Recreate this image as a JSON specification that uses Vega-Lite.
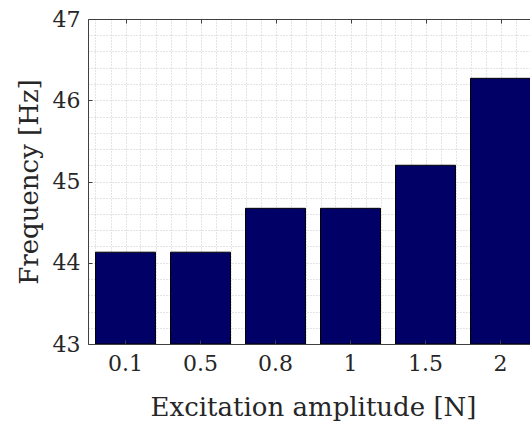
{
  "$schema": "https://vega.github.io/schema/vega-lite/v6.json",
  "width": 442,
  "height": 325,
  "autosize": {"type": "none"},
  "padding": {"left": 88, "top": 19, "right": 0, "bottom": 79},
  "background": "white",
  "config": {
    "view": {"stroke": null},
    "font": "DejaVu Serif",
    "axis": {
      "labelFont": "DejaVu Serif",
      "titleFont": "DejaVu Serif",
      "labelFontSize": 22,
      "titleFontSize": 26,
      "titleFontWeight": "normal",
      "labelColor": "#262626",
      "titleColor": "#262626",
      "domainColor": "#404040",
      "tickColor": "#404040",
      "domainWidth": 1,
      "tickWidth": 1,
      "gridColor": "#c8c8c8",
      "gridDash": [1, 2],
      "gridWidth": 1
    }
  },
  "data": {
    "values": [
      {"amp": "0.1", "freq": 44.13},
      {"amp": "0.5", "freq": 44.13},
      {"amp": "0.8", "freq": 44.67},
      {"amp": "1", "freq": 44.67},
      {"amp": "1.5", "freq": 45.2},
      {"amp": "2", "freq": 46.27}
    ]
  },
  "layer": [
    {
      "mark": {"type": "point", "opacity": 0},
      "encoding": {
        "x": {
          "datum": 1,
          "type": "quantitative",
          "scale": {"domain": [0.5, 6.5], "range": [0, 450], "nice": false, "zero": false},
          "axis": {
            "orient": "top",
            "values": [0.6, 0.8, 1, 1.2, 1.4, 1.6, 1.8, 2, 2.2, 2.4, 2.6, 2.8, 3, 3.2, 3.4, 3.6, 3.8, 4, 4.2, 4.4, 4.6, 4.8, 5, 5.2, 5.4, 5.6, 5.8, 6, 6.2, 6.4],
            "grid": true,
            "labels": false,
            "ticks": false,
            "domain": false,
            "title": null,
            "zindex": 0
          }
        },
        "y": {"datum": 45, "type": "quantitative", "axis": null}
      }
    },
    {
      "mark": {"type": "point", "opacity": 0},
      "encoding": {
        "y": {
          "datum": 45,
          "type": "quantitative",
          "axis": {
            "orient": "right",
            "values": [43.2, 43.4, 43.6, 43.8, 44, 44.2, 44.4, 44.6, 44.8, 45, 45.2, 45.4, 45.6, 45.8, 46, 46.2, 46.4, 46.6, 46.8],
            "grid": true,
            "labels": false,
            "ticks": false,
            "domain": false,
            "title": null,
            "zindex": 0
          }
        }
      }
    },
    {
      "mark": {"type": "bar", "fill": "#000066", "stroke": "#000000", "strokeWidth": 1},
      "encoding": {
        "x": {
          "field": "amp",
          "type": "ordinal",
          "sort": null,
          "scale": {"range": [0, 450], "paddingInner": 0.2, "paddingOuter": 0.1},
          "axis": {
            "labelAngle": 0,
            "title": "Excitation amplitude [N]",
            "tickSize": -4,
            "labelPadding": 13,
            "titlePadding": 20,
            "grid": false,
            "zindex": 1
          }
        },
        "y": {
          "field": "freq",
          "type": "quantitative",
          "scale": {"domain": [43, 47], "nice": false, "zero": false},
          "axis": {
            "orient": "left",
            "values": [43, 44, 45, 46, 47],
            "format": "d",
            "grid": false,
            "tickSize": -4,
            "labelPadding": 12,
            "title": "Frequency [Hz]",
            "titlePadding": 10,
            "zindex": 1
          }
        },
        "y2": {"datum": 43}
      }
    },
    {
      "mark": {"type": "point", "opacity": 0},
      "encoding": {
        "x": {
          "datum": 1,
          "type": "quantitative",
          "scale": {"domain": [0.5, 6.5], "range": [0, 450], "nice": false, "zero": false},
          "axis": {
            "orient": "top",
            "values": [1, 2, 3, 4, 5, 6],
            "grid": false,
            "labels": false,
            "ticks": true,
            "tickSize": -4,
            "domain": true,
            "title": null,
            "zindex": 1
          }
        },
        "y": {"datum": 45, "type": "quantitative", "axis": null}
      }
    }
  ],
  "resolve": {"scale": {"x": "independent"}, "axis": {"y": "independent"}}
}
